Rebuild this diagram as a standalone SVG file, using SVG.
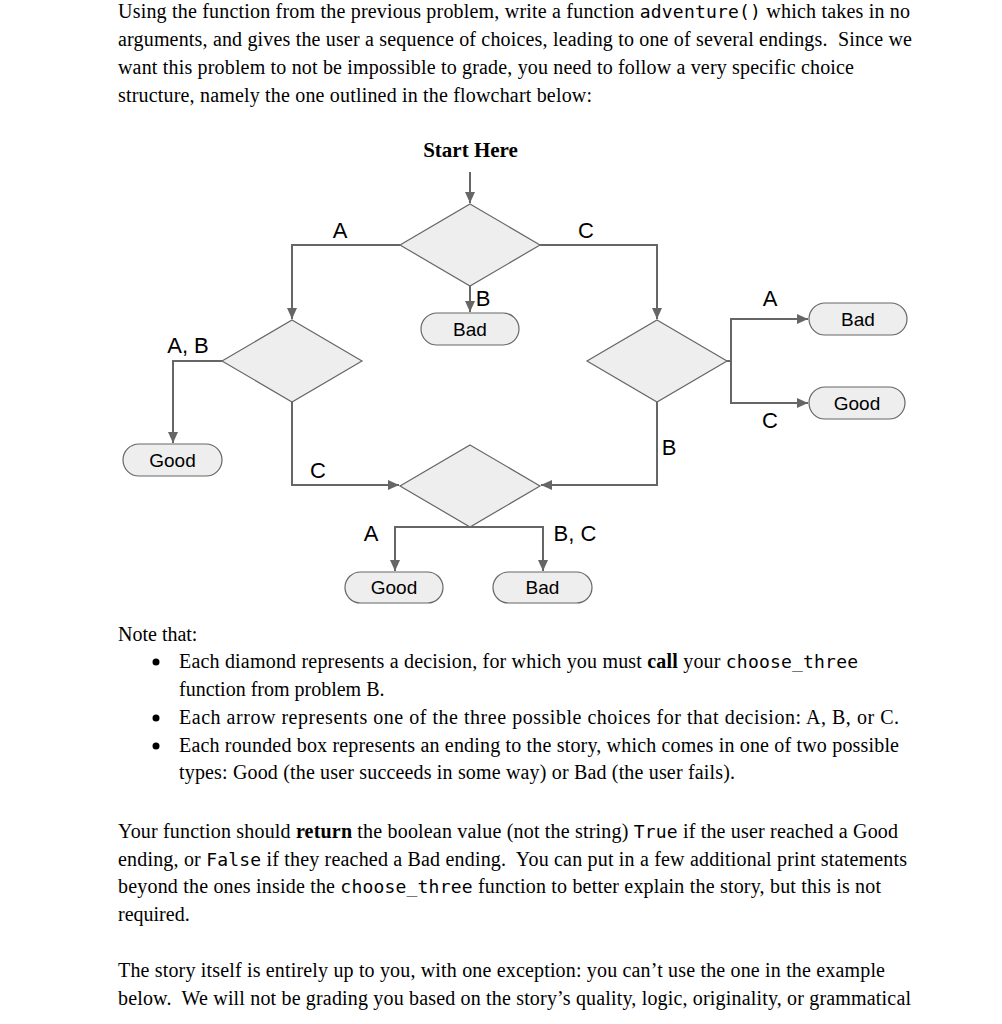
<svg xmlns="http://www.w3.org/2000/svg" width="1002" height="1024" viewBox="0 0 1002 1024">
<style>
.body{font-family:"Liberation Serif","Times New Roman",serif;font-size:20px;fill:#000;white-space:pre}
.mono{font-family:"DejaVu Sans Mono","Liberation Mono",monospace;font-size:18px}
.b{font-weight:bold}
.dia{fill:#eeeeee;stroke:#666666;stroke-width:1.2}
.box{fill:#eeeeee;stroke:#666666;stroke-width:1.2}
.bt{font-family:"Liberation Sans",Arial,sans-serif;font-size:19px;fill:#000;text-anchor:middle}
.lbl{font-family:"Liberation Sans",Arial,sans-serif;font-size:22px;fill:#000;text-anchor:middle}
.con{fill:none;stroke:#666666;stroke-width:2}
</style>
<defs>
<marker id="ah" markerUnits="userSpaceOnUse" markerWidth="12" markerHeight="10" refX="11" refY="5" orient="auto">
<path d="M0,0 L11,5 L0,10 z" fill="#666666"/>
</marker>
</defs>
<rect width="1002" height="1024" fill="#ffffff"/>

<g id="intro">
<text class="body" x="118" y="18" textLength="792" lengthAdjust="spacing">Using the function from the previous problem, write a function <tspan class="mono">adventure()</tspan> which takes in no</text>
<text class="body" x="118" y="46" textLength="794" lengthAdjust="spacing">arguments, and gives the user a sequence of choices, leading to one of several endings.  Since we</text>
<text class="body" x="118" y="74" textLength="736" lengthAdjust="spacing">want this problem to not be impossible to grade, you need to follow a very specific choice</text>
<text class="body" x="118" y="102" textLength="474" lengthAdjust="spacing">structure, namely the one outlined in the flowchart below:</text>
</g>

<g id="start">
<text class="body b" x="470.5" y="157" text-anchor="middle" style="font-size:21px">Start Here</text>
</g>

<g id="connectors">
<path class="con" d="M470,172 V203" marker-end="url(#ah)"/>
<path class="con" d="M400,245 H292 V319" marker-end="url(#ah)"/>
<path class="con" d="M540,245 H657 V319" marker-end="url(#ah)"/>
<path class="con" d="M470,286 V312" marker-end="url(#ah)"/>
<path class="con" d="M222,361 H173 V443" marker-end="url(#ah)"/>
<path class="con" d="M292,402 V485 H399" marker-end="url(#ah)"/>
<path class="con" d="M727,361 H731 V319 H808" marker-end="url(#ah)"/>
<path class="con" d="M731,361 V403 H808" marker-end="url(#ah)"/>
<path class="con" d="M657,402 V485 H541" marker-end="url(#ah)"/>
<path class="con" d="M470,527 H395 V571" marker-end="url(#ah)"/>
<path class="con" d="M470,527 H543 V571" marker-end="url(#ah)"/>
<text class="lbl" x="340" y="238">A</text>
<text class="lbl" x="586" y="238">C</text>
<text class="lbl" x="483" y="306">B</text>
<text class="lbl" x="188" y="353">A, B</text>
<text class="lbl" x="318" y="478">C</text>
<text class="lbl" x="770" y="306">A</text>
<text class="lbl" x="770" y="428">C</text>
<text class="lbl" x="669" y="455">B</text>
<text class="lbl" x="371" y="541">A</text>
<text class="lbl" x="575" y="541">B, C</text>
</g>

<g id="decision1"><polygon class="dia" points="470,204 540,245 470,286 400,245"/></g>
<g id="decision2"><polygon class="dia" points="292,320 362,361 292,402 222,361"/></g>
<g id="decision3"><polygon class="dia" points="657,320 727,361 657,402 587,361"/></g>
<g id="decision4"><polygon class="dia" points="470,445 540,486 470,527 400,486"/></g>

<g id="end-bad1"><rect class="box" x="421" y="313" width="98" height="32" rx="16"/><text class="bt" x="470" y="336">Bad</text></g>
<g id="end-good1"><rect class="box" x="123" y="444" width="99" height="32" rx="16"/><text class="bt" x="172.5" y="467">Good</text></g>
<g id="end-bad2"><rect class="box" x="809" y="303" width="98" height="32" rx="16"/><text class="bt" x="858" y="326">Bad</text></g>
<g id="end-good2"><rect class="box" x="809" y="387" width="96" height="32" rx="16"/><text class="bt" x="857" y="410">Good</text></g>
<g id="end-good3"><rect class="box" x="345" y="572" width="98" height="31" rx="15.5"/><text class="bt" x="394" y="594">Good</text></g>
<g id="end-bad3"><rect class="box" x="493" y="572" width="99" height="31" rx="15.5"/><text class="bt" x="542.5" y="594">Bad</text></g>

<g id="notes">
<text class="body" x="118" y="641">Note that:</text>
<circle cx="156" cy="662" r="3.5" fill="#000"/>
<text class="body" x="179" y="668" textLength="679" lengthAdjust="spacing">Each diamond represents a decision, for which you must <tspan class="b">call</tspan> your <tspan class="mono">choose_three</tspan></text>
<text class="body" x="179" y="696">function from problem B.</text>
<circle cx="156" cy="718" r="3.5" fill="#000"/>
<text class="body" x="179" y="724" textLength="720" lengthAdjust="spacing">Each arrow represents one of the three possible choices for that decision: A, B, or C.</text>
<circle cx="156" cy="746" r="3.5" fill="#000"/>
<text class="body" x="179" y="752" textLength="720" lengthAdjust="spacing">Each rounded box represents an ending to the story, which comes in one of two possible</text>
<text class="body" x="179" y="779" textLength="556" lengthAdjust="spacing">types: Good (the user succeeds in some way) or Bad (the user fails).</text>
</g>

<g id="para">
<text class="body" x="118" y="838" textLength="780" lengthAdjust="spacing">Your function should <tspan class="b">return</tspan> the boolean value (not the string) <tspan class="mono">True</tspan> if the user reached a Good</text>
<text class="body" x="118" y="866" textLength="789" lengthAdjust="spacing">ending, or <tspan class="mono">False</tspan> if they reached a Bad ending.  You can put in a few additional print statements</text>
<text class="body" x="118" y="893" textLength="763" lengthAdjust="spacing">beyond the ones inside the <tspan class="mono">choose_three</tspan> function to better explain the story, but this is not</text>
<text class="body" x="118" y="921">required.</text>
<text class="body" x="118" y="977" textLength="767" lengthAdjust="spacing">The story itself is entirely up to you, with one exception: you can’t use the one in the example</text>
<text class="body" x="118" y="1005" textLength="793" lengthAdjust="spacing">below.  We will not be grading you based on the story’s quality, logic, originality, or grammatical</text>
</g>
</svg>
